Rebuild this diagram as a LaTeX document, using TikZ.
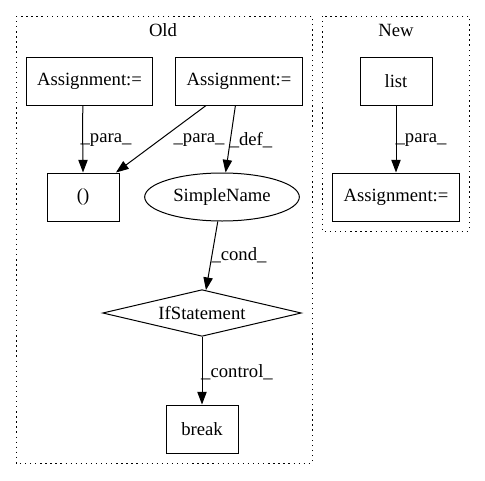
\documentclass[tikz,border=0pt]{standalone}
\usepackage{fontspec}
\setmainfont{Liberation Serif}
\usetikzlibrary{arrows.meta,shapes.geometric}

\begin{document}
\begin{tikzpicture}[x=0.75pt,y=0.75pt,line width=0.75pt]
    \tikzstyle{every node}=[font=\fontsize{14}{16}\selectfont]
    \tikzstyle{box}=[draw,rectangle,minimum width=54pt,minimum height=36pt,inner xsep=8pt]
    \tikzstyle{oval}=[draw,ellipse,minimum width=116pt,minimum height=36pt]
    \tikzstyle{cond}=[draw,diamond,aspect=4.25,inner sep=0pt,minimum width=149pt,minimum height=35pt]
    \tikzstyle{edge}=[-{Triangle[length=9.5pt,width=7pt]}]
    \tikzstyle{cluster}=[dash pattern=on 1pt off 2.8pt]
    \useasboundingbox (0,0) rectangle (485,480);

    % clusters
    \draw[cluster] (16,464) rectangle (312,17);
    \draw[cluster] (322,464) rectangle (469,249);
    \node (old) at (163,450) {Old};
    \node (new) at (396,450) {New};

    \node[box] (asgA) at (89.5,399) {Assignment:=};
    \node[box] (asgB) at (239,399) {Assignment:=};
    \node[box] (paren) at (83,283) {()};
    \node[oval] (simple) at (222,283) {SimpleName};
    \node[cond] (ifstmt) at (202,167) {IfStatement};
    \node[box] (brk) at (202,51) {break};
    \node[box] (lst) at (396,399) {list};
    \node[box] (asgC) at (396,283) {Assignment:=};

    \draw[edge] (asgA.south -| paren.north) .. controls +(-1,-25) and +(0,25) .. (paren.north);
    \draw[edge] (asgB) -- (paren);
    \draw[edge] (asgB) -- (simple);
    \draw[edge] (simple) -- (ifstmt);
    \draw[edge] (ifstmt) -- (brk);
    \draw[edge] (lst) -- (asgC);

    \node (lparaA) at (106,340) {\_para\_};
    \node (lparaB) at (199,340) {\_para\_};
    \node (ldef) at (251,340) {\_def\_};
    \node (lcond) at (239,225) {\_cond\_};
    \node (lcontrol) at (237,108) {\_control\_};
    \node (lparaC) at (421,340) {\_para\_};
  \end{tikzpicture}
\end{document}
